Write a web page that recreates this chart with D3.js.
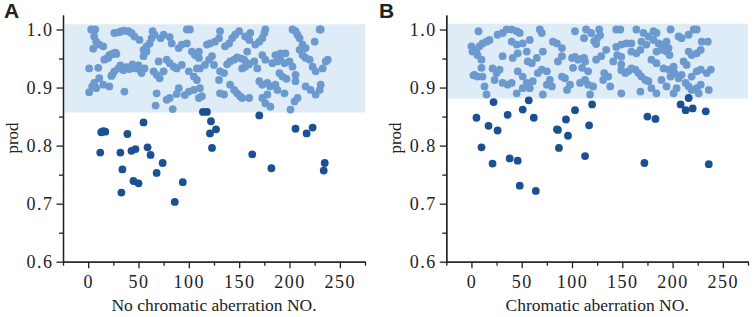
<!DOCTYPE html>
<html>
<head>
<meta charset="utf-8">
<script src="https://cdn.jsdelivr.net/npm/d3@7"></script>
<style>
  body { margin: 0; background: #fff; }
  svg text { font-family: "Liberation Serif", "Times New Roman", serif; fill: #222; }
  .panel-label { font-family: "Liberation Sans", Arial, sans-serif; font-weight: bold; font-size: 21px; }
  .axis path, .axis line { stroke: #222; stroke-width: 1.3; }
</style>
</head>
<body>
<div id="chart"></div>
<script>
// [index, prod] pairs
var lightA = [
  [3,1.0],[7,1.0],[6,0.988],[8,0.979],[11,0.974],[15,0.971],[5,0.967],[1,0.933],[10,0.934],[11,0.916],[6,0.908],[4,0.902],[1,0.892],[8,0.899],[15,0.905],[21,0.902],
  [16,0.948],[18,0.95],[20,0.951],[21,0.956],[23,0.957],[25,0.959],[27,0.96],[28,0.958],
  [24,0.922],[26,0.928],[30,0.933],[32,0.938],[23,0.92],
  [26,0.994],[30,0.995],[33,0.997],[36,0.998],[40,0.997],[43,0.994],[46,0.988],[51,0.982],
  [35,0.93],[38,0.935],[41,0.932],[44,0.94],[47,0.933],[50,0.938],[52,0.93],
  [36,0.893],
  [55,0.954],[58,0.962],[55,0.965],[58,0.971],[61,0.976],[63,0.985],[66,0.991],[64,0.997],
  [53,0.925],[56,0.933],[65,0.928],[68,0.922],[71,0.916],[75,0.928],
  [70,0.945],[78,0.948],[81,0.942],[85,0.936],[88,0.933],[93,0.939],
  [75,0.991],[72,0.985],[81,0.987],[83,0.976],[90,0.968],[93,0.974],[98,0.976],
  [98,1.0],[101,1.0],[103,0.962],[106,0.956],[100,0.928],[105,0.919],[108,0.913],
  [90,0.899],[88,0.889],[81,0.882],[78,0.879],[68,0.890],[67,0.869],[84,0.863],
  [96,0.887],[100,0.893],[105,0.896],[110,0.882],[111,0.933],[110,0.951],
  [110,0.962],[108,0.933],[111,0.899],[113,0.885],[116,0.939],[120,0.948],[123,0.954],
  [121,0.976],[126,0.979],[130,0.985],[131,0.997],[118,0.974],
  [125,0.939],[131,0.928],[135,0.925],[130,0.913],[131,0.890],[135,0.888],
  [136,0.971],[140,0.976],[143,0.985],[146,0.991],[150,0.997],
  [138,0.94],[141,0.945],[145,0.948],[148,0.952],[152,0.95],[155,0.948],[158,0.942],
  [141,0.905],[145,0.896],[148,0.890],[151,0.885],[153,0.882],[160,0.882],
  [156,0.988],[161,0.994],[160,0.982],[158,0.962],[153,0.933],[156,0.936],[160,0.94],
  [165,0.945],[168,0.933],
  [166,0.974],[170,0.979],[173,0.985],[175,0.994],[176,1.0],
  [173,0.956],[176,0.948],
  [170,0.911],[173,0.905],[178,0.908],[181,0.902],[173,0.882],[176,0.873],[178,0.888],[181,0.867],
  [183,0.942],[188,0.945],[191,0.948],[195,0.942],[200,0.945],[203,0.936],
  [186,0.956],[191,0.959],[196,0.959],
  [190,0.925],[193,0.919],[197,0.915],
  [186,0.905],[188,0.896],[195,0.890],[201,0.862],
  [203,1.0],[206,0.997],[208,0.991],[210,0.985],[213,0.974],[216,0.968],[210,0.965],
  [206,0.922],[206,0.911],[208,0.882],[205,0.876],
  [213,0.956],[216,0.951],[220,0.948],
  [225,0.979],[230,1.0],[231,1.0],
  [223,0.936],[226,0.928],[233,0.933],[236,0.945],[238,0.948],
  [216,0.902],[221,0.896],[226,0.888],[230,0.896],[231,0.905]
];
var darkA = [
  [12,0.788],[13,0.823],[15,0.825],[17,0.824],[32,0.788],[33,0.719],[34,0.759],[39,0.820],[43,0.791],[45,0.739],
  [47,0.794],[50,0.735],[55,0.840],[59,0.797],[62,0.784],[68,0.753],[74,0.770],[86,0.703],[94,0.737],[114,0.858],
  [118,0.858],[121,0.821],[122,0.842],[123,0.796],[127,0.828],[163,0.785],[170,0.852],[182,0.761],[206,0.829],
  [217,0.821],[223,0.831],[234,0.757],[235,0.770]
];
var lightB = [
  [0,0.971],[2,0.921],[7,0.997],[1,0.962],[5,0.965],[8,0.971],[11,0.976],[15,0.979],[18,0.982],[6,0.956],[10,0.948],[3,0.922],[6,0.919],[11,0.919],[13,0.902],[10,0.934],[15,0.888],
  [21,0.933],[25,0.925],[28,0.931],[23,0.913],[31,0.908],[36,0.905],[40,0.908],
  [26,0.991],[31,0.994],[35,1.0],[40,1.0],[45,0.997],[48,0.994],
  [40,0.979],[45,0.974],[51,0.976],[41,0.951],[46,0.959],[55,0.962],[31,0.954],
  [46,0.928],[51,0.919],[45,0.890],[51,0.899],[55,0.908],[58,0.899],[61,0.911],
  [56,0.945],[60,0.942],[58,0.982],[68,1.0],[70,0.994],[65,0.951],[71,0.962],
  [66,0.925],[70,0.931],[75,0.928],[71,0.888],[75,0.905],[78,0.913],[80,0.902],
  [81,0.979],[85,0.976],[90,0.968],[86,0.945],[90,0.954],[90,0.919],[93,0.916],[95,0.896],[98,0.905],
  [100,0.951],[103,0.953],[106,0.948],[110,0.95],[113,0.945],[103,0.997],[101,0.934],[110,0.934],[108,0.908],[113,0.913],
  [114,1.0],[112,0.985],[122,0.98],[125,0.985],[128,0.99],[124,0.975],[127,1.0],[112,0.951],[116,0.928],
  [116,0.905],[121,0.902],[118,0.888],[124,0.948],[129,0.954],[134,0.965],[132,0.925],[136,0.919],[131,0.913],[138,0.902],
  [144,1.0],[148,1.0],[144,0.97],[149,0.974],[154,0.976],[159,0.976],[141,0.945],[145,0.956],[149,0.953],[149,0.94],
  [149,0.93],[153,0.925],[156,0.928],[159,0.933],[163,0.931],[166,0.925],[169,0.919],[173,0.913],[176,0.911],
  [159,0.962],[164,0.959],[168,0.965],[164,1.0],[171,0.994],[176,0.988],[181,0.997],[184,0.994],
  [169,0.979],[174,0.974],[181,0.982],[186,0.976],[189,0.974],[193,0.971],[194,0.979],[196,0.968],
  [184,0.962],[189,0.965],[194,0.962],[197,0.956],[179,0.948],[184,0.942],[191,0.933],[196,0.931],[201,0.936],
  [189,0.913],[194,0.902],[198,0.919],[202,0.925],[206,0.916],[209,0.922],[179,0.899],[184,0.890],
  [198,1.0],[206,0.988],[209,0.985],[216,0.991],[221,1.0],[224,1.0],
  [216,0.962],[219,0.956],[224,0.959],[228,0.965],[229,0.979],[211,0.945],[214,0.939],
  [219,0.919],[224,0.928],[228,0.931],[213,0.908],[216,0.902],[219,0.896],[224,0.899],[228,0.905],
  [226,0.890],[236,0.896],[234,0.925],[238,0.931],[235,0.979],[204,0.899],[201,0.890],[149,0.890],[168,0.893],[119,0.994]
];
var darkB = [
  [5,0.848],[10,0.797],[17,0.834],[21,0.769],[22,0.875],[26,0.826],[36,0.853],[38,0.778],[46,0.774],[48,0.731],
  [51,0.862],[57,0.878],[62,0.848],[64,0.722],[85,0.828],[86,0.827],[87,0.796],[94,0.845],[96,0.817],[103,0.861],
  [113,0.782],[117,0.835],[120,0.871],[172,0.770],[175,0.850],[183,0.846],[208,0.871],[213,0.861],[216,0.882],
  [220,0.864],[233,0.859],[236,0.768]
];
var bandA = [0.857, 1.009];
var bandB = [0.881, 1.010];
var xMajor = [0, 50, 100, 150, 200, 250];
var xMinor = [-25, 25, 75, 125, 175, 225, 275];
var yMajor = [0.6, 0.7, 0.8, 0.9, 1.0];
var yMinor = [0.65, 0.75, 0.85, 0.95];

var W = 754, H = 317;
var svg = d3.select("#chart").append("svg").attr("width", W).attr("height", H);

var yScale = d3.scaleLinear().domain([0.6, 1.025]).range([261.7, 15]);

function panel(left, right, light, dark, band, letter, title, letterX) {
  var xScale = d3.scaleLinear().domain([-25, 275]).range([left, right]);
  var g = svg.append("g");

  g.append("rect")
    .attr("x", xScale(-23.5))
    .attr("y", yScale(band[1]))
    .attr("width", xScale(275) - xScale(-23.5))
    .attr("height", yScale(band[0]) - yScale(band[1]))
    .attr("fill", "#deecf8");

  g.selectAll("circle.light").data(light).enter().append("circle")
    .attr("class", "light")
    .attr("cx", function (d) { return xScale(d[0]); })
    .attr("cy", function (d) { return yScale(d[1]); })
    .attr("r", 3.9)
    .attr("fill", "#6c9acf");

  g.selectAll("circle.dark").data(dark).enter().append("circle")
    .attr("class", "dark")
    .attr("cx", function (d) { return xScale(d[0]); })
    .attr("cy", function (d) { return yScale(d[1]); })
    .attr("r", 3.9)
    .attr("fill", "#1b5193");

  // minor ticks
  g.append("g").attr("class", "axis")
    .attr("transform", "translate(0,261.7)")
    .call(d3.axisBottom(xScale).tickValues(xMinor).tickSize(4).tickSizeOuter(0).tickFormat(""));
  g.append("g").attr("class", "axis")
    .attr("transform", "translate(" + left + ",0)")
    .call(d3.axisLeft(yScale).tickValues(yMinor).tickSize(4).tickSizeOuter(0).tickFormat(""));

  var xAxis = g.append("g").attr("class", "axis")
    .attr("transform", "translate(0,261.7)")
    .call(d3.axisBottom(xScale).tickValues(xMajor).tickSize(6.5).tickSizeOuter(0).tickPadding(7));
  xAxis.selectAll("text").style("font-size", "18px").style("font-family", "Liberation Serif")
    .style("letter-spacing", "1.5px").attr("fill", "#222");

  var yAxis = g.append("g").attr("class", "axis")
    .attr("transform", "translate(" + left + ",0)")
    .call(d3.axisLeft(yScale).tickValues(yMajor).tickSize(6.5).tickSizeOuter(0).tickPadding(3)
      .tickFormat(d3.format(".1f")));
  yAxis.selectAll("text").style("font-size", "18px").style("font-family", "Liberation Serif")
    .style("letter-spacing", "1.5px").attr("fill", "#222");

  g.append("text")
    .attr("x", (left + right) / 2)
    .attr("y", 311)
    .attr("text-anchor", "middle")
    .style("font-size", "17.5px")
    .text(title);

  g.append("text")
    .attr("transform", "translate(" + (left - 45) + "," + 138 + ") rotate(-90)")
    .attr("text-anchor", "middle")
    .style("font-size", "17px")
    .text("prod");

  g.append("text")
    .attr("class", "panel-label")
    .attr("x", letterX)
    .attr("y", 18)
    .text(letter);
}

panel(63, 365, lightA, darkA, bandA, "A", "No chromatic aberration NO.", 4);
panel(446.3, 748, lightB, darkB, bandB, "B", "Chromatic aberration NO.", 379);
</script>
</body>
</html>
